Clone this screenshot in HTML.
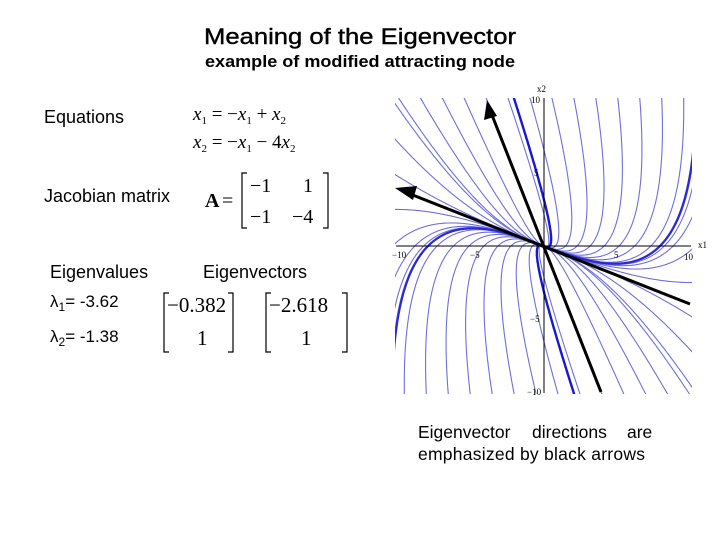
<!DOCTYPE html>
<html><head><meta charset="utf-8"><style>
html,body{margin:0;background:#fff;overflow:hidden;width:720px;height:540px;}
svg{display:block;}
.s{font-family:"Liberation Sans",sans-serif;fill:#000;}
.m{font-family:"Liberation Serif",serif;fill:#000;}
</style></head><body>
<svg id="sv" width="720" height="540" viewBox="0 0 720 540" xmlns="http://www.w3.org/2000/svg">
<rect width="720" height="540" fill="#fff"/>
<text class="s" x="204" y="44" font-size="22.5" stroke="#000" stroke-width="0.4" textLength="312" lengthAdjust="spacingAndGlyphs">Meaning of the Eigenvector</text>
<text class="s" x="205" y="67" font-size="17" font-weight="bold" textLength="310" lengthAdjust="spacingAndGlyphs">example of modified attracting node</text>
<text class="s" x="44" y="123" font-size="18">Equations</text>
<text class="s" x="44" y="202" font-size="18">Jacobian matrix</text>
<text class="s" x="50" y="278" font-size="18">Eigenvalues</text>
<text class="s" x="203" y="278" font-size="18">Eigenvectors</text>
<text class="s" x="50" y="307" font-size="17">λ<tspan font-size="12" dy="4">1</tspan><tspan dy="-4">= -3.62</tspan></text>
<text class="s" x="50" y="342" font-size="17">λ<tspan font-size="12" dy="4">2</tspan><tspan dy="-4">= -1.38</tspan></text>
<text class="m" x="193" y="120" font-size="19" font-style="italic">x<tspan font-size="11" dy="4" font-style="normal">1</tspan><tspan dy="-4" font-style="normal"> = −</tspan>x<tspan font-size="11" dy="4" font-style="normal">1</tspan><tspan dy="-4" font-style="normal"> + </tspan>x<tspan font-size="11" dy="4" font-style="normal">2</tspan></text>
<text class="m" x="193" y="148" font-size="19" font-style="italic">x<tspan font-size="11" dy="4" font-style="normal">2</tspan><tspan dy="-4" font-style="normal"> = −</tspan>x<tspan font-size="11" dy="4" font-style="normal">1</tspan><tspan dy="-4" font-style="normal"> − 4</tspan>x<tspan font-size="11" dy="4" font-style="normal">2</tspan></text>
<text class="m" x="205" y="207" font-size="20" font-weight="bold">A</text>
<text class="m" x="222" y="207" font-size="20">=</text>
<path d="M247 173H242V228H247M323 173H328V228H323" fill="none" stroke="#000" stroke-width="1.2"/>
<text class="m" x="250" y="192" font-size="20">−1</text>
<text class="m" x="303" y="192" font-size="20">1</text>
<text class="m" x="250" y="223" font-size="20">−1</text>
<text class="m" x="292" y="223" font-size="20">−4</text>
<path d="M169 293H164V352H169M228 293H233V352H228" fill="none" stroke="#000" stroke-width="1.2"/>
<text class="m" x="167" y="312" font-size="21">−0.382</text>
<text class="m" x="197" y="345" font-size="21">1</text>
<path d="M271 293H266V352H271M342 293H347V352H342" fill="none" stroke="#000" stroke-width="1.2"/>
<text class="m" x="269" y="312" font-size="21">−2.618</text>
<text class="m" x="301" y="345" font-size="21">1</text>
<text class="s" x="418" y="438" font-size="17.5">Eigenvector</text>
<text class="s" x="532" y="438" font-size="17.5">directions</text>
<text class="s" x="627" y="438" font-size="17.5">are</text>
<text class="s" x="418" y="460" font-size="17.5" textLength="227">emphasized by black arrows</text>
<defs><clipPath id="cp"><rect x="395" y="98" width="297" height="296"/></clipPath></defs>
<g id="traj" clip-path="url(#cp)" fill="none"></g>
<g stroke="#000" stroke-width="1" font-family="Liberation Serif,serif" font-size="9">
<line x1="396" y1="246" x2="691" y2="246"/>
<line x1="544" y1="98" x2="544" y2="393"/>
<text x="392" y="258" stroke="none">−10</text><text x="470" y="258" stroke="none">−5</text>
<text x="614" y="258" stroke="none">5</text><text x="684" y="260" stroke="none">10</text>
<text x="698" y="248" stroke="none">x1</text>
<text x="537" y="92" stroke="none">x2</text>
<text x="531" y="103" stroke="none">10</text><text x="534" y="176" stroke="none">5</text>
<text x="530" y="322" stroke="none">−5</text><text x="527" y="395" stroke="none">−10</text>
</g>
<g stroke="#000" stroke-width="3">
<line x1="601" y1="392" x2="490" y2="110"/>
<line x1="690" y1="304" x2="405" y2="192"/>
</g>
<polygon points="487,100 484,120 497,116" fill="#000"/>
<polygon points="395,188 413,200 417,186" fill="#000"/>
</svg>
<script>
(function(){
var g=document.getElementById('traj');
var X=function(x){return 544+x*14.7}, Y=function(y){return 246-y*14.6};
function traj(x,y,w,c){
 var d='M'+X(x).toFixed(1)+' '+Y(y).toFixed(1);
 for(var i=0;i<4000;i++){
  var dx=-x+y, dy=-x-4*y;
  var sp=Math.sqrt(dx*dx+dy*dy);
  if(sp<0.01)break;
  var h=0.05/sp;
  x+=dx*h;y+=dy*h;
  d+='L'+X(x).toFixed(1)+' '+Y(y).toFixed(1);
 }
 var p=document.createElementNS('http://www.w3.org/2000/svg','path');
 p.setAttribute('d',d);p.setAttribute('stroke',c);p.setAttribute('stroke-width',w);
 g.appendChild(p);
}
var c='#6f6fdc';
for(var t=-10;t<=10.01;t+=1.5){
 traj(t,10.3,1.1,c);traj(-t,-10.3,1.1,c);
}
for(var t=-10;t<=10.01;t+=2.5){
 traj(-10.3,t,1.1,c);traj(10.3,-t,1.1,c);
}
traj(-2.1,10.3,2.4,'#1818d0');traj(2.1,-10.3,2.4,'#1818d0');
traj(-10.3,-9,2.2,'#2a2ad0');traj(10.3,9,2.2,'#2a2ad0');
})();
</script>
</body></html>
